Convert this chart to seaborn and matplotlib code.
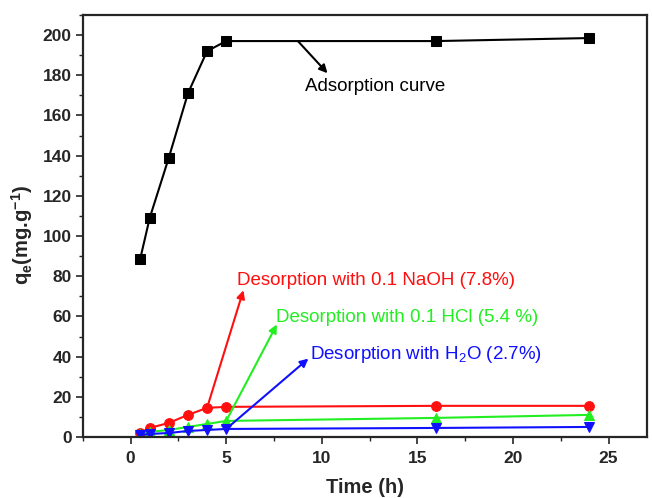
import numpy as np
import pandas as pd
import matplotlib
matplotlib.use("Agg")
import matplotlib.pyplot as plt
import seaborn as sns
from matplotlib.ticker import MultipleLocator

time_h = [0.5, 1, 2, 3, 4, 5, 16, 24]
adsorption = [88.5, 109, 139, 171, 192, 197, 197, 198.5]
naoh = [2, 4.5, 7, 11, 14.5, 15, 15.5, 15.5]
hcl = [1.5, 2.5, 3.5, 5, 6.5, 8, 9.5, 11]
water = [1, 1.5, 2, 3, 3.5, 4, 4.5, 5]

series_names = ["Adsorption", "NaOH", "HCl", "H2O"]
series_values = [adsorption, naoh, hcl, water]
colors = ["black", "#ff0f0f", "#22ee22", "#1010ff"]
markers = ["s", "o", "^", "v"]
marker_sizes = [6.5, 7, 7, 7]

sns.set_theme(style="ticks")
plt.rcParams["font.family"] = ["Liberation Sans", "DejaVu Sans"]
plt.rcParams["mathtext.fontset"] = "custom"
plt.rcParams["mathtext.rm"] = "Liberation Sans"
plt.rcParams["mathtext.bf"] = "Liberation Sans:bold"

fig = plt.figure(figsize=(6.52, 4.98), dpi=100)
ax = fig.add_axes([0.127, 0.1225, 0.865, 0.8475])

for name, vals, c, m, ms in zip(series_names, series_values, colors, markers, marker_sizes):
    df = pd.DataFrame({"t": time_h, "q": vals})
    sns.lineplot(data=df, x="t", y="q", ax=ax, color=c, marker=m,
                 markersize=ms, markeredgecolor=c, linewidth=1.5, legend=False)

ax.set_xlim(-2.5, 27)
ax.set_ylim(0, 210)
ax.xaxis.set_major_locator(MultipleLocator(5))
ax.xaxis.set_minor_locator(MultipleLocator(2.5))
ax.yaxis.set_major_locator(MultipleLocator(20))
ax.yaxis.set_minor_locator(MultipleLocator(10))
ax.tick_params(which="major", length=5, width=1.2, direction="out", labelsize=12.5, pad=3)
ax.tick_params(axis="x", which="major", pad=5)
ax.tick_params(which="minor", length=3, width=1.0, direction="out")
for lbl in ax.get_xticklabels() + ax.get_yticklabels():
    lbl.set_fontweight("bold")
for s in ax.spines.values():
    s.set_linewidth(1.6)
    s.set_visible(True)

ax.set_xlabel("Time (h)", fontsize=14.5, fontweight="bold", labelpad=9)
ax.set_ylabel(r"q$_\mathbf{e}$(mg.g$^\mathbf{-1}$)", fontsize=14.5, fontweight="bold")
ax.yaxis.set_label_coords(-0.085, 0.48)

def arrow(xy_from, xy_to, c):
    ax.annotate("", xy=xy_to, xytext=xy_from,
                arrowprops=dict(arrowstyle="-|>", color=c, lw=1.5, mutation_scale=12,
                                shrinkA=0, shrinkB=0))

arrow((8.75, 197), (10.3, 181), "black")
ax.text(9.1, 174.5, "Adsorption curve", fontsize=13.5, color="black", va="center")

arrow((4.0, 14.5), (5.9, 73), colors[1])
ax.text(5.57, 78, "Desorption with 0.1 NaOH (7.8%)", fontsize=13.5, color=colors[1], va="center")

arrow((5.0, 8), (7.65, 56), colors[2])
ax.text(7.6, 59.5, "Desorption with 0.1 HCl (5.4 %)", fontsize=13.5, color=colors[2], va="center")

arrow((5.0, 4), (9.3, 39), colors[3])
ax.text(9.4, 41, r"Desorption with H$_\mathrm{2}$O (2.7%)", fontsize=13.5, color=colors[3], va="center")

fig.savefig("out.png", dpi=100)
